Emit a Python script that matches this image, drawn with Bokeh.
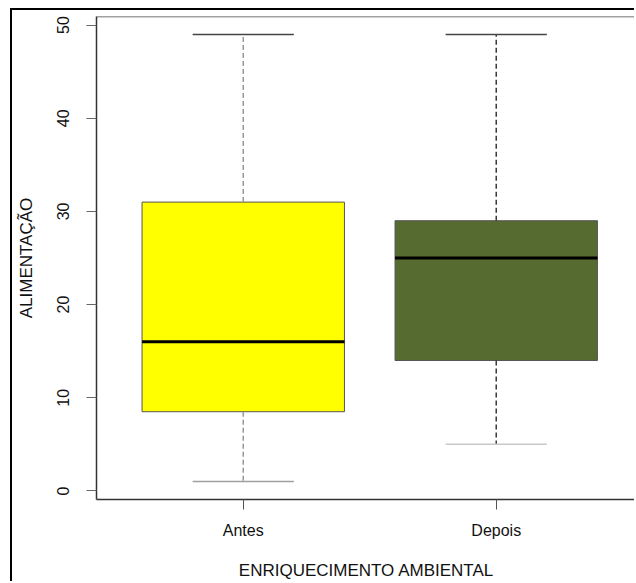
from bokeh.plotting import figure
from bokeh.models import Range1d, FixedTicker, Span
from bokeh.embed import file_html
from bokeh.resources import INLINE

# ---- data ----
groups = ["Antes", "Depois"]
mins = [1, 5]
q1 = [8.5, 14]
medians = [16, 25]
q3 = [31, 29]
maxs = [49, 49]
y_ticks = [0, 10, 20, 30, 40, 50]
x_title = "ENRIQUECIMENTO AMBIENTAL"
y_title = "ALIMENTAÇÃO"

fill_colors = ["#FFFF00", "#556B2F"]
whisker_colors = ["#9a9a9a", "#3a3a3a"]
top_cap_colors = ["#444444", "#444444"]
bottom_cap_colors = ["#a0a0a0", "#c8c8c8"]

pos = [i + 1 for i in range(len(groups))]
box_w = 0.8
cap_w = 0.4

FONT = "Liberation Sans"

W, H = 624, 573
left_b, top_b, bottom_b = 84, 6, 84
frame_w = W - left_b
px_per_unit = 253.0
x0 = 0.42

p = figure(width=W, height=H, output_backend="svg", toolbar_location=None,
           x_range=Range1d(x0, x0 + frame_w / px_per_unit),
           y_range=Range1d(-0.92, 50.92),
           min_border_left=left_b, min_border_right=0,
           min_border_top=top_b, min_border_bottom=bottom_b,
           styles={"border-left": "2px solid #000", "border-top": "2px solid #000",
                   "margin-left": "10px", "margin-top": "8px"})
p.outline_line_color = None
p.grid.visible = False
p.background_fill_color = "white"
p.border_fill_color = "white"

# top frame line
p.add_layout(Span(location=50.92, dimension="width", line_color="#444444", line_width=1.5))

# boxes
p.vbar(x=pos, width=box_w, bottom=q1, top=q3, fill_color=fill_colors,
       line_color="#555555", line_width=1)
# medians
p.segment(x0=[x - box_w / 2 for x in pos], y0=medians,
          x1=[x + box_w / 2 for x in pos], y1=medians,
          line_color="black", line_width=3)
# whiskers
p.segment(x0=pos, y0=q3, x1=pos, y1=maxs, line_color=whisker_colors,
          line_width=1.5, line_dash="5 3")
p.segment(x0=pos, y0=q1, x1=pos, y1=mins, line_color=whisker_colors,
          line_width=1.5, line_dash="5 3")
# caps
p.segment(x0=[x - cap_w / 2 for x in pos], y0=maxs,
          x1=[x + cap_w / 2 for x in pos], y1=maxs,
          line_color=top_cap_colors, line_width=1.5)
p.segment(x0=[x - cap_w / 2 for x in pos], y0=mins,
          x1=[x + cap_w / 2 for x in pos], y1=mins,
          line_color=bottom_cap_colors, line_width=1.5)

# axes
xa = p.xaxis[0]
xa.ticker = FixedTicker(ticks=pos)
xa.major_label_overrides = {x: g for x, g in zip(pos, groups)}
xa.minor_tick_line_color = None
xa.major_tick_in = 0
xa.major_tick_out = 10
xa.major_tick_line_color = "#555555"
xa.axis_line_color = "#333333"
xa.axis_line_width = 1.5
xa.major_label_text_font = FONT
xa.major_label_text_font_size = "16px"
xa.major_label_text_color = "#111111"
xa.major_label_standoff = 12
xa.axis_label = x_title
xa.axis_label_text_font = FONT
xa.axis_label_text_font_style = "normal"
xa.axis_label_text_font_size = "17px"
xa.axis_label_text_color = "#111111"
xa.axis_label_standoff = 19

ya = p.yaxis[0]
ya.ticker = FixedTicker(ticks=y_ticks)
ya.minor_tick_line_color = None
ya.major_tick_in = 0
ya.major_tick_out = 10
ya.major_tick_line_color = "#666666"
ya.axis_line_color = "#333333"
ya.axis_line_width = 1.5
ya.major_label_orientation = "vertical"
ya.major_label_text_font = FONT
ya.major_label_text_font_size = "16px"
ya.major_label_text_color = "#111111"
ya.major_label_standoff = 17
ya.axis_label = y_title
ya.axis_label_text_font = FONT
ya.axis_label_text_font_style = "normal"
ya.axis_label_text_font_size = "17px"
ya.axis_label_text_color = "#111111"
ya.axis_label_standoff = 19

open("out.html", "w").write(file_html(p, INLINE))
